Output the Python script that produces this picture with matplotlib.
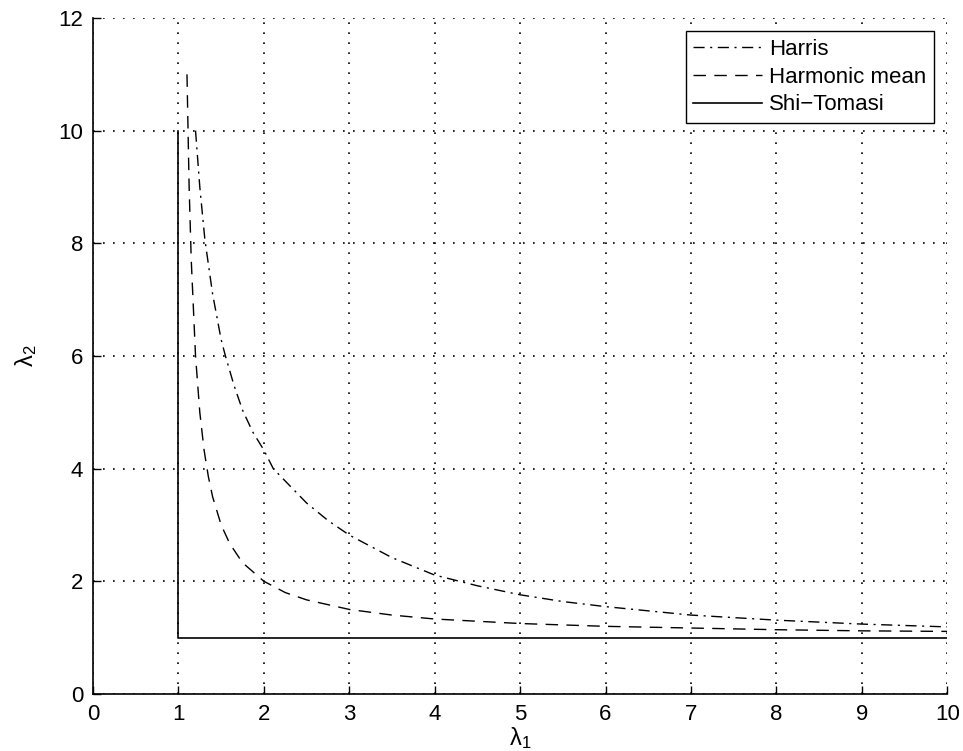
import matplotlib
matplotlib.use('Agg')
import matplotlib.pyplot as plt

# valores
harris_l1 = [1.2, 1.25, 1.31, 1.4, 1.5, 1.55, 1.65, 1.75, 1.87, 2.0, 2.11, 2.25, 2.5, 2.75,
             3.0, 3.5, 4.0, 4.5, 5.0, 5.5, 6.0, 7.0, 8.0, 9.0, 10.0]
harris_l2 = [10.0, 9.0, 8.06, 7.1, 6.29, 6.0, 5.48, 5.04, 4.65, 4.33, 4.0, 3.78, 3.39, 3.08,
             2.82, 2.42, 2.11, 1.92, 1.76, 1.64, 1.55, 1.40, 1.31, 1.24, 1.19]

harm_l1 = [1.1, 1.125, 1.15, 1.2, 1.25, 1.3, 1.35, 1.4, 1.5, 1.6, 1.75, 2.0, 2.25, 2.5,
           3.0, 3.5, 4.0, 5.0, 6.0, 7.0, 8.0, 9.0, 10.0]
harm_l2 = [11.0, 9.0, 7.7, 6.0, 5.0, 4.33, 3.86, 3.5, 3.0, 2.67, 2.33, 2.0, 1.8, 1.67,
           1.5, 1.4, 1.33, 1.25, 1.2, 1.17, 1.14, 1.12, 1.11]

shi_l1 = [1, 1, 10]
shi_l2 = [10, 1, 1]

xticks = list(range(0, 11))
yticks = [0, 2, 4, 6, 8, 10, 12]

plt.rcParams['font.family'] = ['Liberation Sans', 'DejaVu Sans']
plt.rcParams['mathtext.fontset'] = 'custom'
plt.rcParams['mathtext.rm'] = 'Liberation Sans'

fig = plt.figure(figsize=(9.63, 7.51), dpi=100)
ax = fig.add_axes([0.0966, 0.076, 0.887, 0.900])

ax.plot(harris_l1, harris_l2, color='black', lw=1.0, linestyle=(0, (8, 4, 1.5, 4)), label='Harris')
ax.plot(harm_l1, harm_l2, color='black', lw=1.0, linestyle=(0, (9, 6)), label='Harmonic mean')
ax.plot(shi_l1, shi_l2, color='black', lw=1.2, linestyle='-', label='Shi\u2212Tomasi')

ax.set_xlim(0, 10)
ax.set_ylim(0, 12)
ax.set_xticks(xticks)
ax.set_yticks(yticks)
ax.tick_params(direction='in', length=6, labelsize=16, width=1, top=False, right=False, pad=7)
ax.grid(True, color='black', linestyle=(0, (1, 5)), linewidth=1.2)
for s in ['top', 'right']:
    ax.spines[s].set_visible(False)
for s in ['left', 'bottom']:
    ax.spines[s].set_linewidth(1.2)

ax.set_xlabel(r'$\mathregular{\lambda_1}$', fontsize=17, labelpad=0)
ax.set_ylabel(r'$\mathregular{\lambda_2}$', fontsize=17, labelpad=14)

leg = ax.legend(loc='upper right', fontsize=16, handlelength=3.1, frameon=True,
                fancybox=False, borderaxespad=0.6, labelspacing=0.3, handletextpad=0.3,
                borderpad=0.35)
leg.get_frame().set_edgecolor('black')
leg.get_frame().set_linewidth(1.0)
leg.get_frame().set_alpha(1)

plt.savefig('out.png', dpi=100)
